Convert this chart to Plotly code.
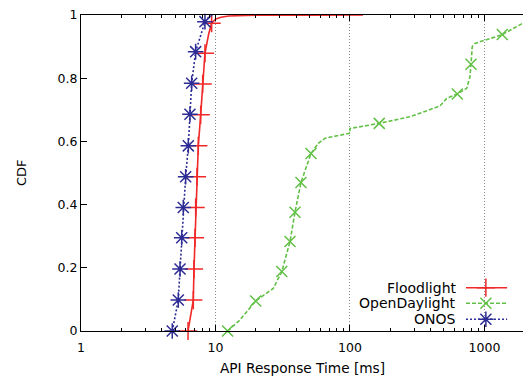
import plotly.graph_objects as go

# ---------------- data ----------------
floodlight_ms = [6.25, 6.4, 6.6, 6.84, 6.92, 7.04, 7.12, 7.28, 7.45, 7.76, 8.03, 8.35, 8.9, 9.36, 10.0, 11.0, 12.5, 20, 50, 125]
floodlight_cdf = [0, 0.03, 0.065, 0.098, 0.196, 0.295, 0.391, 0.488, 0.586, 0.684, 0.782, 0.879, 0.94, 0.974, 0.987, 0.993, 0.997, 0.999, 0.9995, 1.0]
floodlight_marks = [0, 3, 4, 5, 6, 7, 8, 9, 10, 11, 13]

odl_ms = [12.3, 15.2, 19.9, 26.9, 31.1, 35.8, 39.0, 43.2, 51.3, 58.2, 65.2, 100, 100, 165, 279, 467, 524, 628, 738, 780, 794, 811, 850, 1038, 1356, 1890, 2100]
odl_cdf = [0, 0.035, 0.095, 0.135, 0.188, 0.283, 0.376, 0.470, 0.562, 0.594, 0.610, 0.626, 0.641, 0.657, 0.678, 0.712, 0.736, 0.750, 0.768, 0.805, 0.844, 0.900, 0.910, 0.921, 0.938, 0.972, 0.98]
odl_marks = [0, 2, 4, 5, 6, 7, 8, 13, 17, 20, 24]

onos_ms = [4.77, 5.29, 5.45, 5.61, 5.76, 6.0, 6.28, 6.46, 6.65, 7.12, 7.65, 8.35, 9.0, 9.6]
onos_cdf = [0, 0.098, 0.196, 0.295, 0.391, 0.488, 0.586, 0.686, 0.784, 0.884, 0.93, 0.979, 0.995, 1.0]
onos_marks = [0, 1, 2, 3, 4, 5, 6, 7, 8, 9, 11]

series_names = ["Floodlight", "OpenDaylight", "ONOS"]
y_ticks = [0, 0.2, 0.4, 0.6, 0.8, 1]
y_ticktext = ["0", "0.2", "0.4", "0.6", "0.8", "1"]

# ---------------- styles ----------------
colors = ["#f02828", "#62c046", "#2c2c94"]
dashes = ["solid", "4px,2px", "2px,2px"]
symbols = ["cross-thin-open", "x-thin-open", "asterisk-open"]
msizes = [13, 11, 13]
FONT = "DejaVu Sans"
XRANGE = [0, 3.2864]

data = [
    (floodlight_ms, floodlight_cdf, floodlight_marks),
    (odl_ms, odl_cdf, odl_marks),
    (onos_ms, onos_cdf, onos_marks),
]

fig = go.Figure()
for i, (xs, ys, mk) in enumerate(data):
    fig.add_trace(go.Scatter(
        x=xs, y=ys, mode="lines", showlegend=False,
        line=dict(color=colors[i], width=1.6, dash=dashes[i]),
    ))
    fig.add_trace(go.Scatter(
        x=[xs[k] for k in mk], y=[ys[k] for k in mk], mode="markers",
        showlegend=False, cliponaxis=False,
        marker=dict(symbol=symbols[i], size=msizes[i], color=colors[i],
                    line=dict(color=colors[i], width=1.5)),
    ))

# ---------------- custom key (text left of sample, gnuplot style) ----------------
key_rows = [0.137, 0.088, 0.037]
key_x0, key_xm, key_x1 = 0.871, 0.916, 0.964
for i, name in enumerate(series_names):
    fig.add_trace(go.Scatter(
        x=[key_x0, key_x1], y=[key_rows[i], key_rows[i]], mode="lines",
        xaxis="x2", yaxis="y2", showlegend=False,
        line=dict(color=colors[i], width=1.6, dash=dashes[i]),
    ))
    fig.add_trace(go.Scatter(
        x=[key_xm], y=[key_rows[i]], mode="markers", xaxis="x2", yaxis="y2",
        showlegend=False, cliponaxis=False,
        marker=dict(symbol=symbols[i], size=msizes[i], color=colors[i],
                    line=dict(color=colors[i], width=1.5)),
    ))
    fig.add_annotation(x=0.853, y=key_rows[i], xref="paper", yref="paper",
                       text=name, showarrow=False, xanchor="right", yanchor="middle",
                       font=dict(family=FONT, size=14, color="black"))

# invisible traces so the minor-tick overlay axes are drawn
for ax in ("x3", "x4"):
    fig.add_trace(go.Scatter(x=[1], y=[-5], xaxis=ax, yaxis="y", mode="markers",
                             marker=dict(size=1, opacity=0), showlegend=False,
                             hoverinfo="skip"))

# white key box hides the grid lines
fig.add_shape(type="rect", xref="paper", yref="paper", x0=0.643, x1=1.0, y0=0.013, y1=0.161,
              fillcolor="white", line=dict(width=0), layer="between")

# axis titles
fig.add_annotation(x=0, y=0.5, xref="paper", yref="paper", text="CDF", textangle=-90,
                   showarrow=False, xanchor="center", yanchor="middle", xshift=-60,
                   font=dict(family=FONT, size=13, color="black"))
fig.add_annotation(x=0.5, y=0, xref="paper", yref="paper", text="API Response Time [ms]",
                   showarrow=False, xanchor="center", yanchor="middle", yshift=-37,
                   font=dict(family=FONT, size=13.7, color="black"))

minor_vals = [m * 10 ** d for d in range(0, 4) for m in range(2, 10)]
minor_axis = dict(overlaying="x", type="log", range=XRANGE, tickmode="array",
                  tickvals=minor_vals, ticks="inside", ticklen=3, tickcolor="black",
                  tickwidth=1, showticklabels=False, showgrid=False, showline=False,
                  zeroline=False, anchor="y", layer="above traces")

fig.update_layout(
    width=523, height=380,
    margin=dict(l=81, r=0, t=15, b=49),
    paper_bgcolor="white", plot_bgcolor="white",
    showlegend=False,
    font=dict(family=FONT, size=12, color="black"),
    xaxis=dict(
        type="log", range=XRANGE,
        tickmode="linear", tick0=0, dtick=1,
        ticks="inside", ticklen=6, tickcolor="black", tickwidth=1,
        ticklabelstandoff=5, layer="above traces",
        showline=True, linecolor="black", linewidth=1, mirror="ticks",
        showgrid=True, gridcolor="#8a8a8a", griddash="1px,2px", gridwidth=1,
        zeroline=False,
        tickfont=dict(family=FONT, size=12.5, color="black"),
    ),
    xaxis3=dict(minor_axis, side="bottom"),
    xaxis4=dict(minor_axis, side="top"),
    yaxis=dict(
        range=[0, 1],
        tickmode="array", tickvals=y_ticks, ticktext=y_ticktext,
        ticks="inside", ticklen=6, tickcolor="black", tickwidth=1,
        layer="above traces",
        showline=True, linecolor="black", linewidth=1, mirror=False,
        showgrid=False, zeroline=False,
        tickfont=dict(family=FONT, size=12.5, color="black"),
    ),
    xaxis2=dict(overlaying="x", range=[0, 1], visible=False),
    yaxis2=dict(overlaying="y", range=[0, 1], visible=False),
)

fig.write_html("out.html")
